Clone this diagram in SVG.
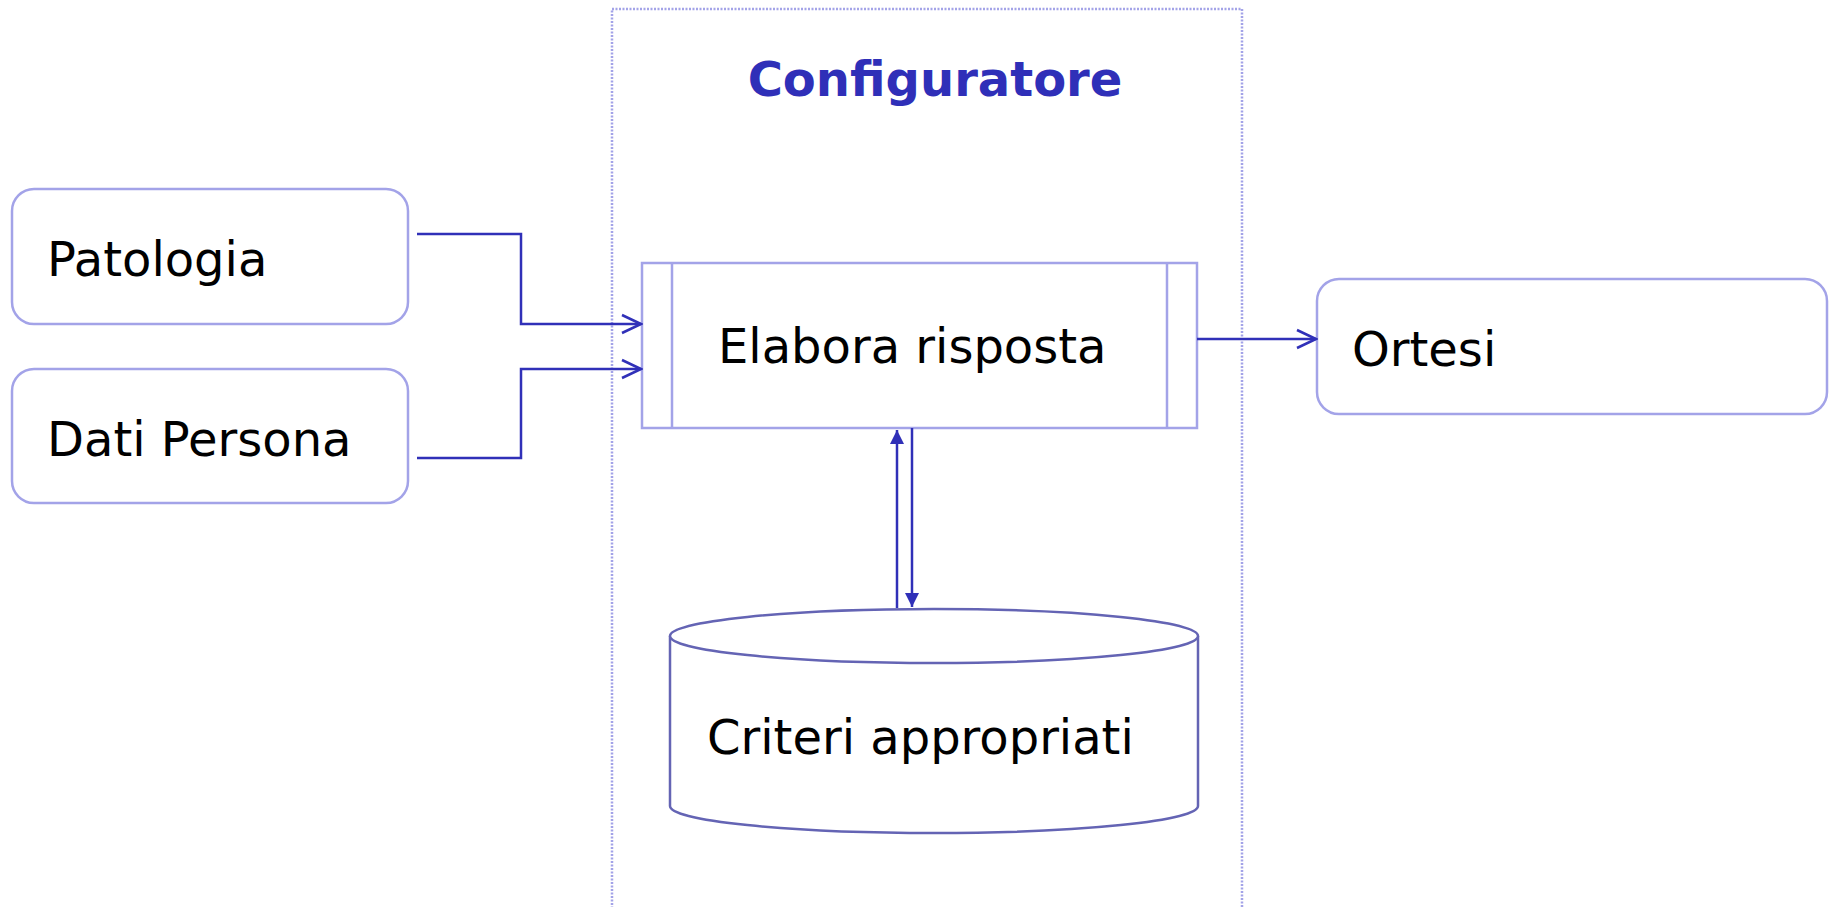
<svg xmlns="http://www.w3.org/2000/svg" width="1833" height="907" viewBox="0 0 1833 907">
<style>
.box{fill:#fff;stroke:#a3a3e8;stroke-width:2.5}
.lbl{font-family:"DejaVu Sans","Liberation Sans",sans-serif;font-size:48px;fill:#000}
.title{font-family:"DejaVu Sans","Liberation Sans",sans-serif;font-size:48px;font-weight:bold;fill:#2f2fb8}
.con{fill:none;stroke:#3030b8;stroke-width:2.5}
.db{fill:#fff;stroke:#6464b4;stroke-width:2.5}
</style>
<defs>
<marker id="open" markerUnits="userSpaceOnUse" markerWidth="24" markerHeight="24" viewBox="0 0 24 24" refX="22" refY="12" orient="auto">
<path d="M3 3 L22 12 L3 21" fill="none" stroke="#3030b8" stroke-width="2.5"/>
</marker>
<marker id="fill" markerUnits="userSpaceOnUse" markerWidth="16" markerHeight="16" viewBox="0 0 16 16" refX="14" refY="8" orient="auto">
<path d="M0 1 L14 8 L0 15 Z" fill="#3030b8"/>
</marker>
</defs>
<g id="configuratore">
<rect x="612" y="9" width="630" height="910" fill="none" stroke="#a3a3e8" stroke-width="2.5" stroke-dasharray="2 1.5"/>
<text class="title" x="935" y="96" text-anchor="middle">Configuratore</text>
</g>
<g id="patologia">
<rect class="box" x="12" y="189" width="396" height="135" rx="22" ry="22"/>
<text class="lbl" x="47" y="276">Patologia</text>
</g>
<g id="dati-persona">
<rect class="box" x="12" y="369" width="396" height="134" rx="22" ry="22"/>
<text class="lbl" x="47" y="456">Dati Persona</text>
</g>
<g id="elabora-risposta">
<rect class="box" x="642" y="263" width="555" height="165"/>
<line class="box" x1="672" y1="263" x2="672" y2="428"/>
<line class="box" x1="1167" y1="263" x2="1167" y2="428"/>
<text class="lbl" x="718" y="363">Elabora risposta</text>
</g>
<g id="ortesi">
<rect class="box" x="1317" y="279" width="510" height="135" rx="22" ry="22"/>
<text class="lbl" x="1352" y="366">Ortesi</text>
</g>
<g id="criteri-appropriati">
<path class="db" d="M670 636 L670 806 A264 27 0 0 0 1198 806 L1198 636 A264 27 0 0 0 670 636 Z"/>
<path class="db" fill="none" d="M670 636 A264 27 0 0 0 1198 636"/>
<text class="lbl" x="707" y="754">Criteri appropriati</text>
</g>
<g id="connectors">
<path class="con" d="M417 234 L521 234 L521 324 L641 324" marker-end="url(#open)"/>
<path class="con" d="M417 458 L521 458 L521 369 L641 369" marker-end="url(#open)"/>
<path class="con" d="M1197 339 L1316 339" marker-end="url(#open)"/>
<path class="con" d="M897 608 L897 430" marker-end="url(#fill)"/>
<path class="con" d="M912 428 L912 607" marker-end="url(#fill)"/>
</g>
</svg>
